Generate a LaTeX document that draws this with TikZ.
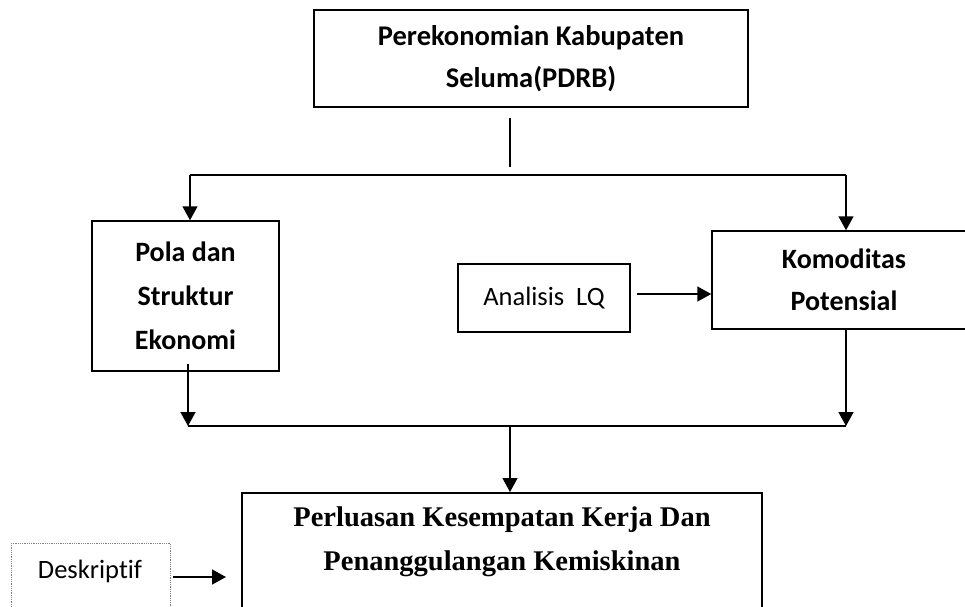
\documentclass[tikz,border=0pt]{standalone}
\usepackage{fontspec}
\setmainfont{Carlito}[Ligatures=NoCommon]
\newfontfamily\perlfont{Liberation Serif}
\usetikzlibrary{arrows.meta}
\begin{document}
\begin{tikzpicture}[x=1pt,y=-1pt,
  box/.style={draw, line width=1.5pt, inner sep=0pt, align=center},
  conn/.style={line width=1.5pt},
  arr/.style={conn, -{Triangle[length=14pt,width=15pt]}},
  bsans/.style={font=\fontsize{28}{43}\selectfont\bfseries},
  rsans/.style={font=\fontsize{26.5}{32}\selectfont},
  dotbox/.style={draw=gray, densely dotted, line width=0.8pt, inner sep=0pt},
]
\useasboundingbox (0,0) rectangle (965,606);
% boxes
\node[box, bsans, font=\fontsize{28.5}{42}\selectfont\bfseries, minimum width=434, minimum height=97] (top) at (531,58.5) {Perekonomian Kabupaten\\Seluma(PDRB)};
\node[box, bsans, font=\fontsize{28}{44}\selectfont\bfseries, minimum width=187, minimum height=150] (pola) at (185.5,296) {Pola dan\\Struktur\\Ekonomi};
\node[box, rsans, minimum width=172, minimum height=68] (lq) at (544,298) {Analisis\ \ LQ};
\node[box, bsans, font=\fontsize{28}{42}\selectfont\bfseries, minimum width=264, minimum height=98] (komo) at (844,280) {Komoditas\\Potensial};
\node[box, minimum width=520, minimum height=150, anchor=north west] (perl) at (241,492) {};
\node[align=center, inner sep=0pt, font=\perlfont\fontsize{28.5}{44}\selectfont\bfseries] (perltext) at (502,542) {Perluasan Kesempatan Kerja Dan\\Penanggulangan Kemiskinan};
\node[dotbox, minimum width=159, minimum height=100, anchor=north west] (desk) at (11,543) {};
\node[rsans, inner sep=0pt] (desktext) at (90,571) {Deskriptif};
% connectors
\coordinate (t1) at (510,118);
\coordinate (t2) at (510,167);
\coordinate (sl) at (190,175);
\coordinate (sr) at (846,175);
\coordinate (p1) at (188,364);
\coordinate (jl) at (188,426);
\coordinate (jr) at (846,426);
\coordinate (jm) at (510,426);
\coordinate (d1) at (173,577);
\coordinate (d2) at (226,577);
\draw[conn] (t1) -- (t2);
\draw[conn] (sl) -- (sr);
\draw[arr] (sl) -- (pola.north -| sl);
\draw[arr] (sr) -- (komo.north -| sr);
\draw[arr] (lq.east |- 0,294) ++(6,0) -- (komo.west |- 0,294);
\draw[arr] (p1) -- (jl);
\draw[arr] (komo.south -| jr) -- (jr);
\draw[conn] (jl) -- (jr);
\draw[arr] (jm) -- (perl.north -| jm);
\draw[arr] (d1) -- (d2);
\end{tikzpicture}
\end{document}
